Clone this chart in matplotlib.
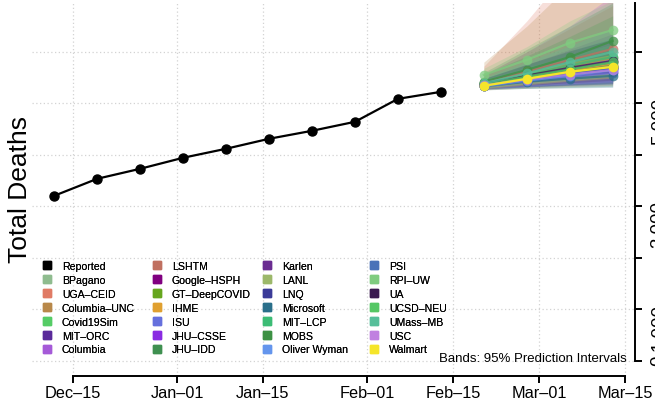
import numpy as np
import matplotlib
matplotlib.use('Agg')
import matplotlib.pyplot as plt
import matplotlib.dates as mdates
from matplotlib.lines import Line2D

plt.rcParams['font.family'] = ['Liberation Sans', 'DejaVu Sans']

# reported weekly totals
reported_dates = ['2020-12-12', '2020-12-19', '2020-12-26', '2021-01-02', '2021-01-09',
                  '2021-01-16', '2021-01-23', '2021-01-30', '2021-02-06', '2021-02-13']
reported = [3204, 3534, 3728, 3942, 4117, 4311, 4466, 4641, 5087, 5223]

forecast_dates = ['2021-02-20', '2021-02-27', '2021-03-06', '2021-03-13']

models = ['BPagano', 'UGA-CEID', 'Columbia-UNC', 'Covid19Sim', 'MIT-ORC', 'Columbia',
          'LSHTM', 'Google-HSPH', 'GT-DeepCOVID', 'IHME', 'ISU', 'JHU-CSSE', 'JHU-IDD',
          'Karlen', 'LANL', 'LNQ', 'Microsoft', 'MIT-LCP', 'MOBS', 'Oliver Wyman',
          'PSI', 'RPI-UW', 'UA', 'UCSD-NEU', 'UMass-MB', 'USC', 'Walmart']

colors = ['#8fbc8f', '#e07b65', '#b8884a', '#55cc66', '#5a2a9a', '#a55ad8',
          '#c07060', '#800080', '#66a61e', '#e0a030', '#6670dd', '#8a2be2', '#3f9050',
          '#6a2c91', '#9cb86a', '#3b3b98', '#2a6f8a', '#3cbc75', '#3d9144', '#6495ed',
          '#4a72b8', '#7fcc7f', '#3a1a50', '#55c765', '#56bf9a', '#c080e0', '#f5e52a']

# point forecasts (median), None = no forecast
median = {
    'BPagano':      [5360, 5480, 5590, 5700],
    'UGA-CEID':     [5370, 5500, 5620, 5740],
    'Columbia-UNC': [5400, 5560, 5720, 5880],
    'Covid19Sim':   [5350, 5470, 5590, 5700],
    'MIT-ORC':      [5340, 5440, 5530, 5610],
    'Columbia':     [5380, 5530, 5680, 5830],
    'LSHTM':        [5400, 5620, 5840, 6058],
    'Google-HSPH':  [5350, 5460, 5570, 5680],
    'GT-DeepCOVID': [5360, 5490, 5610, 5730],
    'IHME':         [5370, 5510, 5650, 5780],
    'ISU':          [5340, 5430, 5510, 5590],
    'JHU-CSSE':     None,
    'JHU-IDD':      [5380, 5520, 5660, 5800],
    'Karlen':       [5350, 5470, 5590, 5710],
    'LANL':         [5360, 5480, 5600, 5720],
    'LNQ':          [5340, 5450, 5560, 5670],
    'Microsoft':    [5330, 5420, 5480, 5534],
    'MIT-LCP':      [5390, 5560, 5730, 5900],
    'MOBS':         [5420, 5650, 5900, 6214],
    'Oliver Wyman': [5330, 5440, 5540, 5640],
    'PSI':          [5350, 5460, 5570, 5680],
    'RPI-UW':       [5553, 5845, 6175, 6427],
    'UA':           [5380, 5540, 5690, 5825],
    'UCSD-NEU':     [5370, 5520, 5660, 5800],
    'UMass-MB':     [5390, 5580, 5800, 6000],
    'USC':          [5350, 5460, 5560, 5650],
    'Walmart':      [5340, 5476, 5612, 5709],
}
lower = {
    'BPagano':      [5290, 5330, 5360, 5390],
    'UGA-CEID':     [5260, 5300, 5330, 5350],
    'Columbia-UNC': [5280, 5320, 5350, 5380],
    'Covid19Sim':   [5300, 5360, 5410, 5450],
    'MIT-ORC':      [5300, 5360, 5400, 5430],
    'Columbia':     [5270, 5320, 5370, 5410],
    'LSHTM':        [5280, 5350, 5420, 5480],
    'Google-HSPH':  [5300, 5370, 5430, 5480],
    'GT-DeepCOVID': [5290, 5350, 5400, 5440],
    'IHME':         [5300, 5380, 5460, 5530],
    'ISU':          [5280, 5320, 5350, 5370],
    'JHU-IDD':      [5260, 5290, 5310, 5330],
    'Karlen':       [5290, 5330, 5360, 5390],
    'LANL':         [5300, 5360, 5420, 5470],
    'LNQ':          [5290, 5340, 5380, 5420],
    'Microsoft':    [5270, 5290, 5300, 5310],
    'MIT-LCP':      [5300, 5380, 5450, 5520],
    'MOBS':         [5300, 5420, 5560, 5700],
    'Oliver Wyman': [5280, 5330, 5370, 5400],
    'PSI':          [5280, 5320, 5350, 5380],
    'RPI-UW':       [5440, 5600, 5780, 5920],
    'UA':           [5290, 5350, 5400, 5450],
    'UCSD-NEU':     [5300, 5380, 5450, 5510],
    'UMass-MB':     [5290, 5380, 5450, 5520],
    'USC':          [5290, 5340, 5380, 5420],
    'Walmart':      [5280, 5360, 5430, 5490],
}
upper = {
    'BPagano':      [5450, 5650, 5850, 6050],
    'UGA-CEID':     [5720, 6600, 7600, 8600],
    'Columbia-UNC': [5800, 6500, 7300, 8000],
    'Covid19Sim':   [5420, 5600, 5790, 5970],
    'MIT-ORC':      [5390, 5530, 5670, 5800],
    'Columbia':     [5550, 6000, 6500, 7100],
    'LSHTM':        [5560, 6000, 6450, 6900],
    'Google-HSPH':  [5410, 5560, 5720, 5880],
    'GT-DeepCOVID': [5450, 5650, 5850, 6060],
    'IHME':         [5450, 5650, 5850, 6050],
    'ISU':          [5420, 5580, 5720, 5860],
    'JHU-IDD':      [5600, 6050, 6500, 6950],
    'Karlen':       [5480, 5750, 6050, 6350],
    'LANL':         [5440, 5630, 5800, 5990],
    'LNQ':          [5400, 5580, 5750, 5920],
    'Microsoft':    [5400, 5560, 5700, 5830],
    'MIT-LCP':      [5490, 5750, 6010, 6280],
    'MOBS':         [5560, 5920, 6300, 6700],
    'Oliver Wyman': [5390, 5560, 5720, 5880],
    'PSI':          [5450, 5650, 5860, 6070],
    'RPI-UW':       [5680, 6100, 6600, 7000],
    'UA':           [5480, 5760, 6020, 6250],
    'UCSD-NEU':     [5460, 5700, 5930, 6150],
    'UMass-MB':     [5500, 5800, 6120, 6450],
    'USC':          [5420, 5590, 5760, 5900],
    'Walmart':      [5410, 5600, 5800, 5950],
}

tick_dates = ['2020-12-15', '2021-01-01', '2021-01-15', '2021-02-01',
              '2021-02-15', '2021-03-01', '2021-03-15']
tick_labels = ['Dec\u201315', 'Jan\u201301', 'Jan\u201315', 'Feb\u201301',
               'Feb\u201315', 'Mar\u201301', 'Mar\u201315']
y_ticks = [0, 1000, 2000, 3000, 4000, 5000, 6000]
y_labels = ['0', '1,000', '', '3,000', '', '5,000', '']

rd = mdates.datestr2num(reported_dates)
fd = mdates.datestr2num(forecast_dates)
td = mdates.datestr2num(tick_dates)

W, H = 655, 402
fig = plt.figure(figsize=(W / 100, H / 100), dpi=100)
ax = fig.add_axes([32 / W, (H - 377) / H, 603 / W, 373 / H])

# grid
for t in td:
    ax.axvline(t, color='#d3d3d3', lw=0.9, ls=(0, (1, 2)), zorder=0)
for t in y_ticks:
    ax.axhline(t, color='#d3d3d3', lw=0.9, ls=(0, (1, 2)), zorder=0)

# bands
for m, c in zip(models, colors):
    if median[m] is None:
        continue
    ax.fill_between(fd, lower[m], upper[m], color=c, alpha=0.24, lw=0, zorder=1)

# forecast lines
for m, c in zip(models, colors):
    if median[m] is None:
        continue
    a = 1.0 if m == 'Walmart' else 0.75
    ax.plot(fd, median[m], color=c, lw=1.6, marker='o', ms=7, mec='none', alpha=a, zorder=3)

ax.plot(rd, reported, color='black', lw=1.6, marker='o', ms=6.5, zorder=4)

# x limits like R (4% each side)
xmin, xmax = rd.min(), fd.max()
ext = 0.04 * (xmax - xmin)
ax.set_xlim(xmin - ext, xmax + ext)
ax.set_ylim(-300, 6950)

ax.set_xticks(td)
ax.set_xticklabels(tick_labels, fontsize=11.7)
ax.yaxis.tick_right()
ax.set_yticks(y_ticks)
ax.set_yticklabels(y_labels, fontsize=13.5)
ax.tick_params(axis='y', labelrotation=90, length=5, width=1.4, pad=6)
ax.tick_params(axis='x', length=5, width=1.4, pad=1.5)

for s in ['top', 'left']:
    ax.spines[s].set_visible(False)
ax.spines['bottom'].set_bounds(td[0], td[-1])
ax.spines['right'].set_bounds(0, 6950)
ax.spines['bottom'].set_linewidth(1.4)
ax.spines['right'].set_linewidth(1.4)

fig.text(20 / W, 1 - 190 / H, 'Total Deaths', rotation=90, fontsize=19,
         ha='center', va='center')

ax.text(0.987, 0.040, 'Bands: 95% Prediction Intervals', transform=ax.transAxes,
        ha='right', va='baseline', fontsize=9.5, zorder=5)

# legend in 4 columns of 7
labels = ['Reported'] + models
handle_colors = ['black'] + colors
handles = [Line2D([], [], ls='none', marker='s', ms=6, mfc=c, mec=c) for c in handle_colors]
col_x = [47, 157, 267, 374]
for i, x in enumerate(col_x):
    h = handles[i * 7:(i + 1) * 7]
    l = [s.replace('-', '\u2013') for s in labels[i * 7:(i + 1) * 7]]
    leg = fig.legend(h, l, loc='upper left', frameon=False, fontsize=7.6,
                     handlelength=1.0, handletextpad=0.9, labelspacing=0.37,
                     borderpad=0, borderaxespad=0,
                     bbox_to_anchor=((x - 5.3) / W, 1 - 262 / H))
    fig.add_artist(leg)

fig.savefig('out.png', dpi=100)
